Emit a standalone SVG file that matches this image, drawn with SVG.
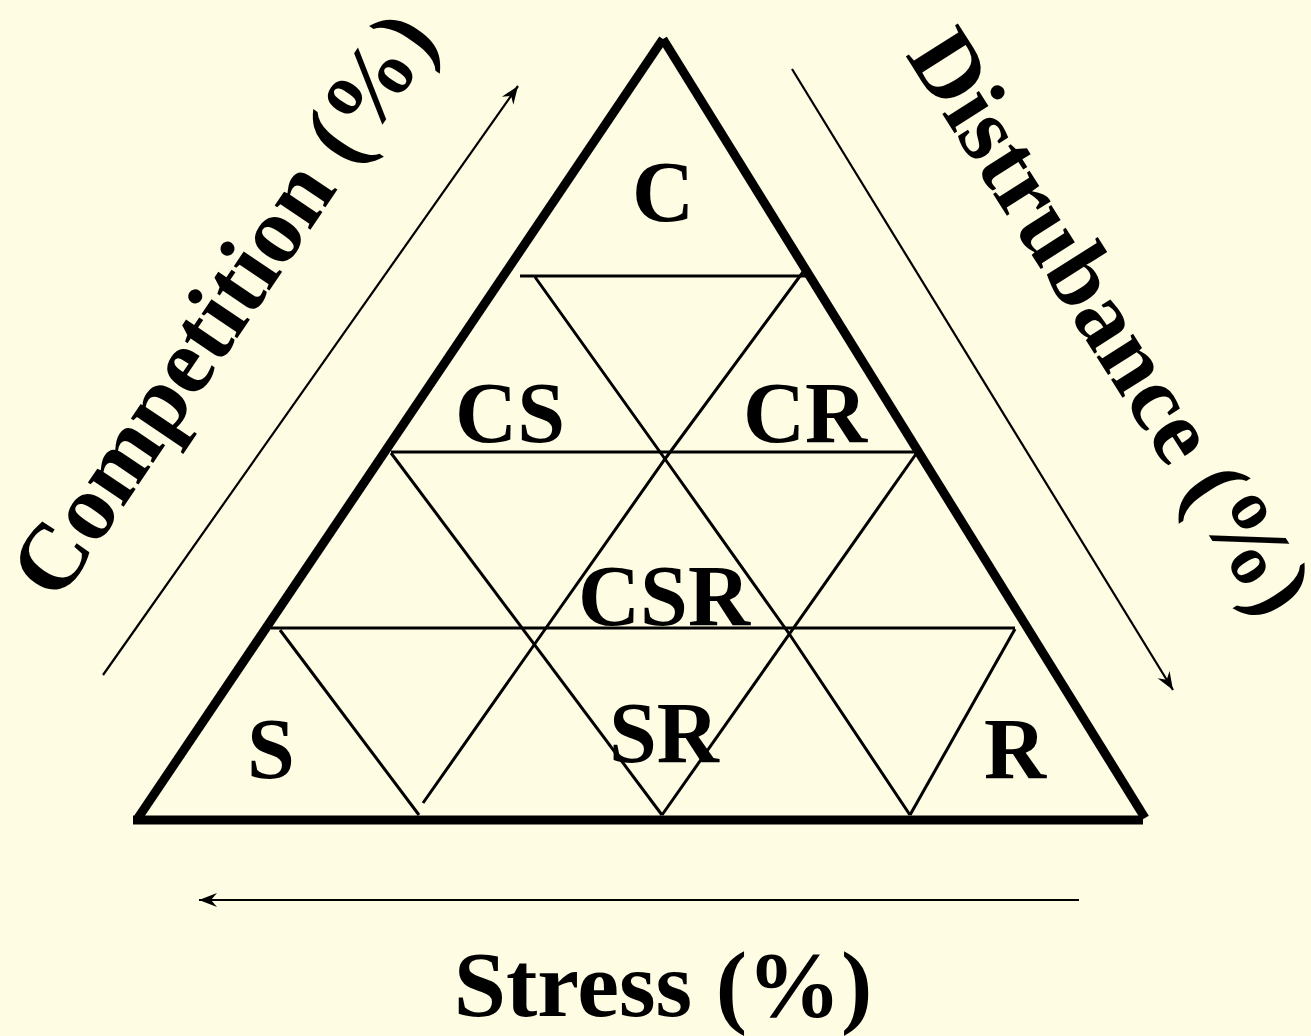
<svg xmlns="http://www.w3.org/2000/svg" width="1311" height="1036" viewBox="0 0 1311 1036">
  <defs>
    <style>
      .lbl { font-family: "Liberation Serif", "Times New Roman", serif; font-weight: bold; fill: #000; }
      .region { font-size: 86px; text-anchor: middle; }
      .axis { font-size: 94px; }
      .outer { stroke: #000; stroke-width: 9; fill: none; stroke-linecap: butt; }
      .thin { stroke: #000; stroke-width: 3; fill: none; stroke-linejoin: miter; }
      .arrow { stroke: #000; stroke-width: 2.2; fill: none; marker-end: url(#ah); }
    </style>
    <marker id="ah" markerWidth="22" markerHeight="16" viewBox="-20 -8 22 16" refX="0" refY="0" orient="auto" markerUnits="userSpaceOnUse">
      <path d="M0,0 L-18,-7 L-12,0 L-18,7 Z" fill="#000"/>
    </marker>
  </defs>
  <rect x="0" y="0" width="1311" height="1036" fill="#FEFCE3"/>

  <g id="outer-triangle">
    <line class="outer" x1="138" y1="818" x2="663" y2="39"/>
    <line class="outer" x1="663" y1="39" x2="1145" y2="818"/>
    <line class="outer" x1="133" y1="820" x2="1143" y2="820"/>
  </g>

  <g id="grid">
    <line class="thin" x1="520" y1="276" x2="806" y2="276"/>
    <line class="thin" x1="391" y1="452" x2="916" y2="452"/>
    <line class="thin" x1="271" y1="628" x2="1015" y2="628"/>
    <polyline class="thin" points="535,277 665,459 790,635 910,815"/>
    <polyline class="thin" points="803,272 665,459 534,645 423,803"/>
    <line class="thin" x1="391" y1="453" x2="662" y2="815"/>
    <line class="thin" x1="916" y1="454" x2="662" y2="815"/>
    <line class="thin" x1="280" y1="630" x2="419" y2="815"/>
    <line class="thin" x1="1015" y1="629" x2="910" y2="815"/>
  </g>

  <g id="connectors">
    <line class="arrow" x1="103" y1="675" x2="518" y2="86"/>
    <line class="arrow" x1="792" y1="69" x2="1173" y2="690"/>
    <line class="arrow" x1="1079" y1="900" x2="199" y2="900"/>
  </g>

  <g id="node-C"><text class="lbl region" x="663" y="221">C</text></g>
  <g id="node-CS"><text class="lbl region" x="510" y="442">CS</text></g>
  <g id="node-CR"><text class="lbl region" x="805" y="442">CR</text></g>
  <g id="node-CSR"><text class="lbl region" x="664" y="625">CSR</text></g>
  <g id="node-S"><text class="lbl region" x="271" y="778">S</text></g>
  <g id="node-SR"><text class="lbl region" x="664" y="762">SR</text></g>
  <g id="node-R"><text class="lbl region" x="1015" y="778">R</text></g>

  <g id="axis-competition"><text class="lbl axis" transform="translate(58,604) rotate(-56)">Competition (%)</text></g>
  <g id="axis-disturbance"><text class="lbl axis" transform="translate(905,55) rotate(57.6)">Distrubance (%)</text></g>
  <g id="axis-stress"><text class="lbl axis" x="663" y="1016" text-anchor="middle" font-size="95">Stress (%)</text></g>
</svg>
